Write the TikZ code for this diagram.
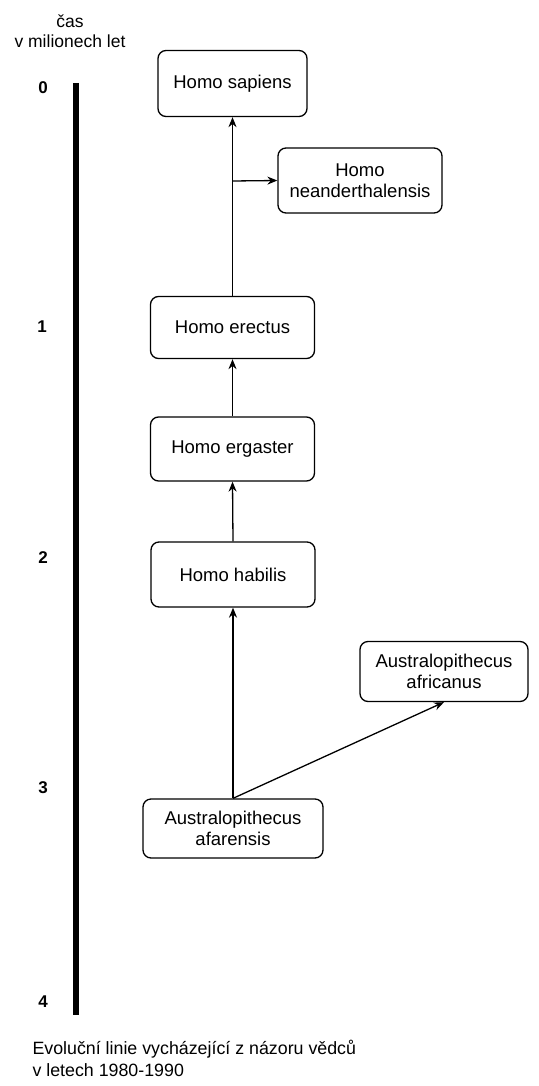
\documentclass[tikz,border=0pt]{standalone}
\usepackage{fontspec}
\setmainfont{Liberation Sans}
\usetikzlibrary{arrows.meta}
\begin{document}
\begin{tikzpicture}[x=1pt,y=-1pt,
  taxon/.style={draw, line width=1.3pt, rounded corners=8pt, fill=white,
    align=center, inner sep=2pt, font=\fontsize{18.5}{21}\selectfont},
  evo/.style={line width=1.3pt, -{Stealth[length=10pt,width=8pt]}},
  tick/.style={font=\fontsize{17}{20}\selectfont\bfseries},
  ]
\useasboundingbox (0,0) rectangle (538,1086);

% time axis
\node[font=\fontsize{17.5}{20}\selectfont, align=center] (axtitle) at (70,31) {čas\\v milionech let};
\coordinate (axtop) at (76,83);
\coordinate (axbot) at (76,1015);
\draw[line width=5.5pt] (axtop) -- (axbot);
\node[tick] (t0) at (43,88) {0};
\node[tick] (t1) at (42,327) {1};
\node[tick] (t2) at (43,558) {2};
\node[tick] (t3) at (43,788) {3};
\node[tick] (t4) at (43,1002) {4};

% taxa
\node[taxon, minimum width=149pt, minimum height=66pt] (sap) at (232.5,83.5) {Homo sapiens};
\node[taxon, minimum width=164pt, minimum height=65pt] (nea) at (360,180.5) {Homo\\neanderthalensis};
\node[taxon, minimum width=164pt, minimum height=62pt] (ere) at (232.5,327.5) {Homo erectus};
\node[taxon, minimum width=164pt, minimum height=64pt] (erg) at (232.5,449) {Homo ergaster};
\node[taxon, minimum width=164pt, minimum height=65pt] (hab) at (233,574.5) {Homo habilis};
\node[taxon, minimum width=168pt, minimum height=60pt] (afr) at (444,671.5) {Australopithecus\\africanus};
\node[taxon, minimum width=180pt, minimum height=59pt] (afa) at (233,828.5) {Australopithecus\\afarensis};

% lineages
\coordinate (split) at (232.5,181);
\draw[evo] (ere.north) -- (sap.south);
\draw[evo] (split) -- (nea.west);
\draw[evo] (erg.north) -- (ere.south);
\draw[evo] (hab.north) -- (erg.south);
\draw[evo] (afa.north) -- (hab.south);
\draw[evo] (afa.north) -- (afr.south);

% caption
\node[anchor=north west, align=left, font=\fontsize{17.8}{22}\selectfont] (cap) at (29,1037)
  {Evoluční linie vycházející z názoru vědců\\v letech 1980-1990};
\end{tikzpicture}
\end{document}
